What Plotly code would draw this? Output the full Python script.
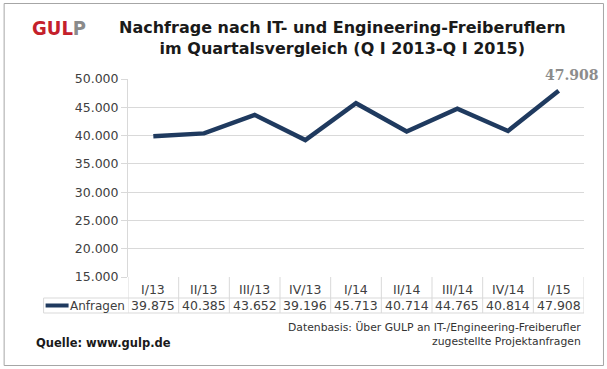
import plotly.graph_objects as go

categories = ["I/13", "II/13", "III/13", "IV/13", "I/14", "II/14", "III/14", "IV/14", "I/15"]
anfragen = [39875, 40385, 43652, 39196, 45713, 40714, 44765, 40814, 47908]
y_ticks = [15000, 20000, 25000, 30000, 35000, 40000, 45000, 50000]
series_name = "Anfragen"

W, H = 607, 369
L, R, T, B = 127.5, 23, 79, 92
PW, PH = W - L - R, H - T - B

LINE = "#1F3A5F"
GRID = "#D9D9D9"
TXT = "#404040"
FONT = "DejaVu Sans"


def px(x):
    return (x - L) / PW


def py(y):
    return (H - B - y) / PH


def fmt(v):
    return f"{v:,}".replace(",", ".")


fig = go.Figure()
fig.add_trace(go.Scatter(
    x=categories, y=anfragen, mode="lines",
    line=dict(color=LINE, width=4.5), name=series_name,
    hoverinfo="x+y"))

shapes = []
annotations = []

# outer frame
shapes.append(dict(type="rect", xref="paper", yref="paper",
                   x0=px(3.5), x1=px(603.5), y0=py(365.5), y1=py(3.5),
                   line=dict(color="#A6A6A6", width=1)))

# table geometry
y_top, y_mid, y_bot = 277, 298, 313
x_left = 43
n = len(categories)
shapes.append(dict(type="line", xref="paper", yref="paper",
                   x0=px(x_left), x1=1, y0=py(y_mid), y1=py(y_mid),
                   line=dict(color=GRID, width=1)))
shapes.append(dict(type="line", xref="paper", yref="paper",
                   x0=px(x_left), x1=1, y0=py(y_bot), y1=py(y_bot),
                   line=dict(color=GRID, width=1)))
shapes.append(dict(type="line", xref="paper", yref="paper",
                   x0=px(x_left), x1=px(x_left), y0=py(y_mid), y1=py(y_bot),
                   line=dict(color=GRID, width=1)))
for i in range(n + 1):
    shapes.append(dict(type="line", xref="x", yref="paper",
                       x0=i - 0.5, x1=i - 0.5, y0=py(y_top), y1=py(y_bot),
                       line=dict(color=GRID, width=1)))

for i, (c, v) in enumerate(zip(categories, anfragen)):
    annotations.append(dict(x=i, xref="x", y=py(289), yref="paper",
                            text=c, showarrow=False, yanchor="middle",
                            font=dict(family=FONT, size=12.5, color=TXT)))
    annotations.append(dict(x=i, xref="x", y=py((y_mid + y_bot) / 2), yref="paper",
                            text=fmt(v), showarrow=False, yanchor="middle",
                            font=dict(family=FONT, size=12.5, color=TXT)))

# legend key in table
shapes.append(dict(type="line", xref="paper", yref="paper",
                   x0=px(45), x1=px(68), y0=py(305.5), y1=py(305.5),
                   line=dict(color=LINE, width=4)))
annotations.append(dict(x=px(126), xref="paper", y=py(305.5), yref="paper",
                        text=series_name, showarrow=False, xanchor="right", yanchor="middle",
                        font=dict(family=FONT, size=12, color=TXT)))

# data label for last point
annotations.append(dict(x=n - 1, xref="x", y=anfragen[-1], yref="y",
                        text=f"<b>{fmt(anfragen[-1])}</b>", showarrow=False,
                        xanchor="center", yanchor="bottom", xshift=13, yshift=6,
                        font=dict(family="DejaVu Serif", size=14, color="#8C8C8C")))

# title
annotations.append(dict(x=px(342), xref="paper", y=py(37.5), yref="paper",
                        text="<b>Nachfrage nach IT- und Engineering-Freiberuflern<br>im Quartalsvergleich (Q I 2013-Q I 2015)</b>",
                        showarrow=False, xanchor="center", yanchor="middle", align="center",
                        font=dict(family=FONT, size=16, color="#1A1A1A")))

# logo
annotations.append(dict(x=px(29), xref="paper", y=py(28), yref="paper",
                        text="<b>GUL<span style='color:#8A8A8A'>P</span></b>", showarrow=False,
                        xanchor="left", yanchor="middle",
                        font=dict(family="DejaVu Sans Condensed", size=20, color="#C4202B")))

# footer
annotations.append(dict(x=px(33), xref="paper", y=py(343), yref="paper",
                        text="<b>Quelle: www.gulp.de</b>", showarrow=False,
                        xanchor="left", yanchor="middle",
                        font=dict(family=FONT, size=11.5, color="#1A1A1A")))
annotations.append(dict(x=px(583), xref="paper", y=py(334.5), yref="paper",
                        text="Datenbasis: Über GULP an IT-/Engineering-Freiberufler<br>zugestellte Projektanfragen",
                        showarrow=False, xanchor="right", yanchor="middle", align="right",
                        font=dict(family=FONT, size=10.8, color="#333333")))

fig.update_layout(
    width=W, height=H,
    margin=dict(l=L, r=R, t=T, b=B, pad=0),
    paper_bgcolor="white", plot_bgcolor="white",
    separators=",.",
    showlegend=False,
    shapes=shapes, annotations=annotations,
    xaxis=dict(type="category", range=[-0.5, n - 0.5], showticklabels=False,
               showgrid=False, zeroline=False, showline=False, ticks=""),
    yaxis=dict(range=[15000, 50000], tickvals=y_ticks, tickformat=",d",
               showgrid=True, gridcolor=GRID, gridwidth=1, zeroline=False,
               showline=True, linecolor=GRID, linewidth=1,
               ticks="outside", ticklen=6, tickcolor=GRID,
               tickfont=dict(family=FONT, size=12.5, color=TXT)),
)

fig.write_html("out.html", config={"displayModeBar": False},
               post_script="document.body.style.margin='0';document.body.style.overflow='hidden';")
